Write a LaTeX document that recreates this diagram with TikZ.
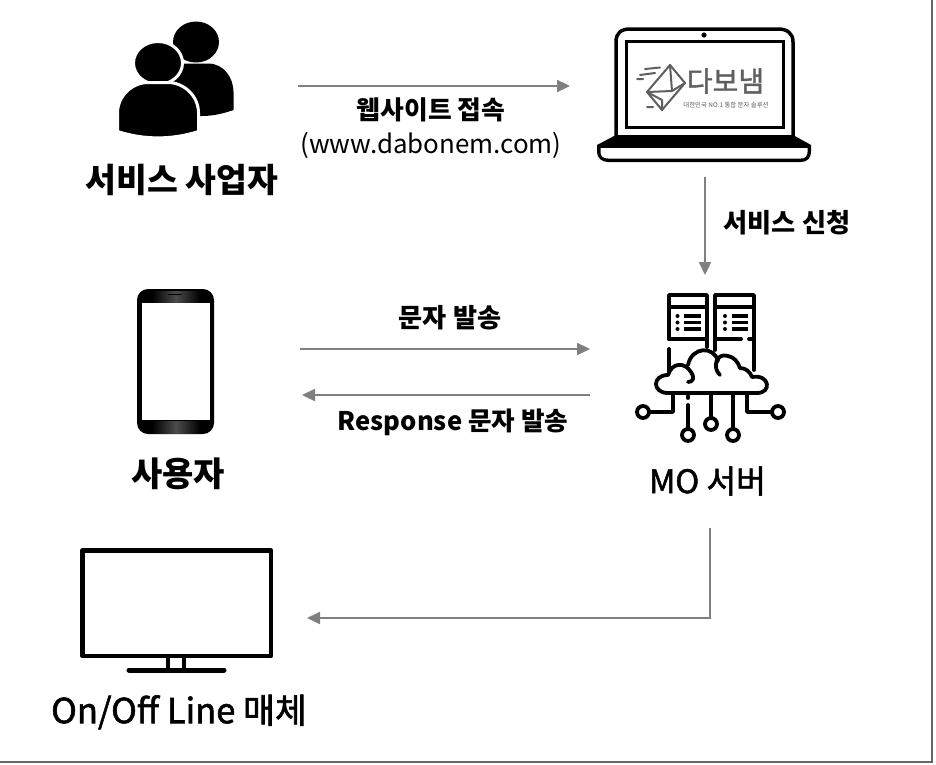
\documentclass[tikz,border=0pt]{standalone}
\usepackage{fontspec}
\setmainfont{Noto Sans CJK KR}
\newfontfamily\medfont[FakeBold=1.6]{Noto Sans CJK KR}
\usetikzlibrary{arrows.meta}
\definecolor{conn}{HTML}{808080}
\definecolor{frameline}{HTML}{666666}
\definecolor{logo}{HTML}{5F5F5F}
\tikzset{
  flow/.style={draw=conn,line width=2.3pt,-{Triangle[length=13pt,width=12pt]}},
  lb/.style={inner sep=0pt,font=\fontsize{#1}{#1}\selectfont\bfseries},
  lm/.style={inner sep=0pt,font=\fontsize{#1}{#1}\selectfont\medfont},
  lr/.style={inner sep=0pt,font=\fontsize{#1}{#1}\selectfont},
  ico/.style={line width=3.8pt,line cap=round,line join=round,draw=black},
  pin/.style={line width=3.8pt,draw=black,fill=white},
  logoline/.style={draw=logo,line width=2pt,line cap=round,line join=round}
}
\begin{document}
\begin{tikzpicture}[x=1pt,y=-1pt]
\useasboundingbox (0,0) rectangle (936,764);
\fill[white] (0,0) rectangle (936,764);
\draw[frameline,line width=1.8pt] (932,0) -- (932,762) -- (0,762);

% people
\fill[black] (196,42) ellipse [x radius=23,y radius=20.5];
\fill[black] (172,63.5) -- (208,63.5)
  .. controls (224,63.5) and (233.5,78) .. (233.5,92) -- (233.5,110) .. controls (222,114) and (212,116) .. (202,116) -- (172,116) -- cycle;
\fill[black,draw=white,line width=3pt] (158,63) ellipse [x radius=24.5,y radius=21.5];
\fill[black,draw=white,line width=3pt] (117.5,131.5) -- (117.5,113) .. controls (117.5,96) and (132,82.5) .. (148,82.5)
  -- (168,82.5) .. controls (184,82.5) and (198.5,96) .. (198.5,113) -- (198.5,131.5)
  .. controls (172,140) and (144,140) .. (117.5,131.5) -- cycle;

% laptop
\draw[black,line width=3.5pt,line join=round] (616,136) -- (616,42) .. controls (616,33) and (621,29) .. (630,29) -- (778,29) .. controls (787,29) and (793,33) .. (793,42) -- (793,136);
\draw[black,line width=3pt] (626,41) rectangle (783,127.5);
\fill[black] (704,35) circle (2.6);
\fill[black] (616,135) -- (793,135) -- (811,145) -- (811,152) .. controls (811,158) and (807,162) .. (801,162)
  -- (608,162) .. controls (602,162) and (597,158) .. (597,152) -- (597,145) -- cycle;
\fill[white] (600.5,148) -- (807.5,148) -- (807.5,152) .. controls (807.5,156) and (805,158.5) .. (801,158.5)
  -- (608,158.5) .. controls (603,158.5) and (600.5,156) .. (600.5,152) -- cycle;
% logo
\draw[logoline] (670,65) -- (685,83) -- (662,110) -- (647,92) -- cycle;
\draw[logoline] (647,92) -- (672,91) -- (685,83) (670,65) -- (672,91) (647,92) -- (662,100) -- (662,110);
\draw[logoline] (645,69) -- (660,67.5) (640,75) -- (655,73) (637,79) -- (643,79) (647,107) -- (653,107);
\node[lm=28,text=logo] (logotext) at (725.5,81) {다보냄};
\node[lr=6.4,text=logo] (logosub) at (726,105.5) {대한민국 NO.1 통합 문자 솔루션};

% phone
\fill[black,rounded corners=11pt] (137,289) rectangle (214,434);
\shade[left color=black,right color=black,middle color=black!70,rounded corners=0pt] (152,291) rectangle (200,302);
\shade[left color=black,right color=black,middle color=black!70] (152,421) rectangle (200,433);
\fill[white] (142,303) rectangle (210,420);
\draw[black,line width=.8pt] (168,294.5) -- (182,294.5);

% server cloud
\draw[ico] (669,339) -- (669,295) -- (707,295) -- (707,347);
\draw[ico] (669,307) -- (707,307);
\draw[ico] (669,339) -- (707,339);
\draw[ico] (669,349) -- (669,372);
\draw[ico] (715,350) -- (715,295) -- (754,295) -- (754,370);
\draw[ico] (715,307) -- (754,307);
\draw[ico] (715,339) -- (741,339) (749,339) -- (754,339);
\foreach \y in {316,322.5,329} {
  \fill (677.5,\y) circle (2);
  \fill (725,\y) circle (2);
  \draw[line width=3.2pt] (684,\y) -- (701,\y);
  \draw[line width=3.2pt] (732,\y) -- (748,\y);
}
\fill[white] (668,393) .. controls (652,393) and (652,375) .. (668,375)
  .. controls (672,362) and (684,362) .. (688,365) .. controls (692,346) and (714,346) .. (718,361)
  .. controls (726,352) and (738,358) .. (740,368) .. controls (746,368) and (750,372) .. (752,377)
  .. controls (770,374) and (772,393) .. (757,393) -- cycle;
\draw[ico] (668,393) .. controls (652,393) and (652,375) .. (668,375)
  .. controls (672,362) and (685,362) .. (691,372) .. controls (695,378) and (693,382) .. (688,382);
\draw[ico] (688,365) .. controls (692,346) and (714,346) .. (718,361);
\draw[ico] (720,375) .. controls (712,368) and (716,352) .. (728,356)
  .. controls (734,357) and (738,362) .. (740,368) .. controls (746,368) and (750,372) .. (752,377)
  .. controls (770,374) and (772,393) .. (757,393) -- (668,393);
\draw[ico] (673,395) -- (673,412) -- (650,412);
\node[pin,circle,minimum size=12pt,inner sep=0pt] (p1) at (643,412) {};
\draw[ico] (747,395) -- (747,412) -- (771,412);
\node[pin,circle,minimum size=12pt,inner sep=0pt] (p5) at (778,412) {};
\draw[ico] (688,396) -- (688,398) (688,405) -- (688,428);
\node[pin,circle,minimum size=12pt,inner sep=0pt] (p2) at (688,435) {};
\draw[ico] (711,395) -- (711,417);
\node[pin,circle,minimum size=12pt,inner sep=0pt] (p3) at (711,424) {};
\draw[ico] (733,395) -- (733,428);
\node[pin,circle,minimum size=12pt,inner sep=0pt] (p4) at (733,435) {};

% tv
\draw[black,line width=4.6pt,line join=round] (82.5,550.5) rectangle (271,656);
\draw[black,line width=4pt] (168,656) -- (168,668) (184,656) -- (184,668);
\draw[black,line width=5pt,line cap=round] (129,670) -- (224,670);

% connector ends
\coordinate (a1) at (298,86);
\coordinate (a2) at (570,86);
\coordinate (b1) at (705,177);
\coordinate (b2) at (705,275);
\coordinate (c1) at (300,349);
\coordinate (c2) at (590,349);
\coordinate (d1) at (590,395);
\coordinate (d2) at (302,395);
\coordinate (e1) at (710,528);
\coordinate (e2) at (710,618);
\coordinate (e3) at (307,618);
\draw[flow] (a1) -- (a2);
\draw[flow] (b1) -- (b2);
\draw[flow] (c1) -- (c2);
\draw[flow] (d1) -- (d2);
\draw[flow] (e1) -- (e2) -- (e3);

% labels
\node[lb=25.8] (t1) at (431,110) {웹사이트 접속};
\node[lr=25.9] (t2) at (431,145) {(www.dabonem.com)};
\node[lb=33.5] (t3) at (182,180) {서비스 사업자};
\node[lb=26.2] (t4) at (787,223) {서비스 신청};
\node[lb=26.2] (t5) at (450,318) {문자 발송};
\node[lb=25.6] (t6) at (453,422) {Response 문자 발송};
\node[lb=34] (t7) at (178,474) {사용자};
\node[lm=32.3] (t8) at (707.5,481) {MO 서버};
\node[lm=34.6] (t9) at (179,712) {On/Off Line 매체};
\end{tikzpicture}
\end{document}
